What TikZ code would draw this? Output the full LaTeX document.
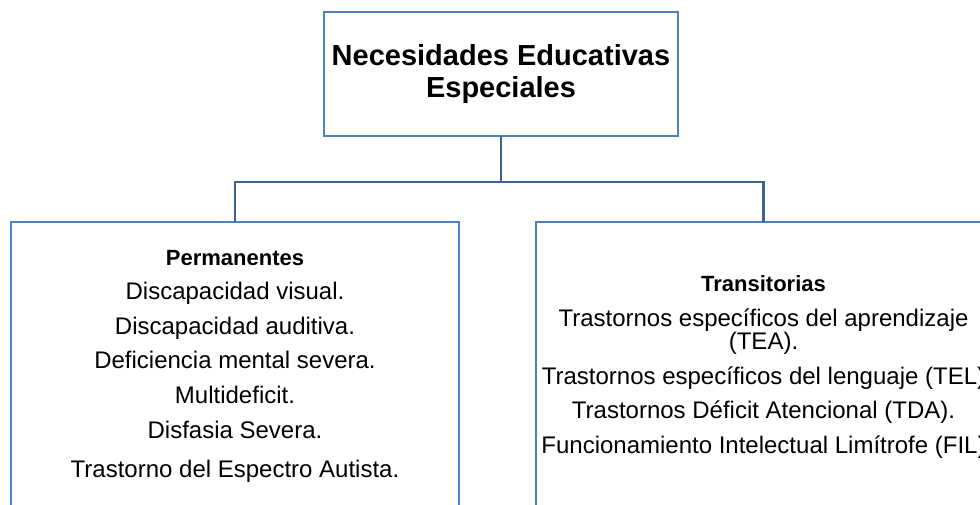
\documentclass[tikz,border=0pt]{standalone}
\usepackage{fontspec}
\setmainfont{Liberation Sans}
\usetikzlibrary{positioning}

\definecolor{bordeazul}{HTML}{4F81BD}
\definecolor{lineaazul}{HTML}{3C6496}

\tikzset{
  caja/.style={draw=bordeazul, line width=2.6pt, outer sep=0pt, inner sep=0pt, fill=white},
  enlace/.style={draw=lineaazul, line width=2.6pt},
  lista/.style={inner sep=0pt, outer sep=0pt, anchor=north, font=\fontsize{24}{34.6}\selectfont},
}

\begin{document}
\begin{tikzpicture}[x=1pt,y=-1pt]
\useasboundingbox (0,0) rectangle (980,505);
\clip (0,0) rectangle (980,505);
\node (nee) [caja, minimum width=354pt, minimum height=124pt, align=center,
  font=\fontsize{29}{31.7}\selectfont\bfseries] at (501,74) {Necesidades Educativas\\Especiales};
\node (perm) [caja, anchor=north, minimum width=448pt, minimum height=320pt] at (235,222) {};
\node (trans) [caja, anchor=north, minimum width=455pt, minimum height=320pt] at (763.5,222) {};
\node (permlista) [lista, below=18.8pt of perm.north] {
\begin{tabular}{@{}c@{}}
{\fontsize{22}{34.6}\selectfont\bfseries Permanentes} \\
 Discapacidad visual. \\
 Discapacidad auditiva. \\
 Deficiencia mental severa. \\
 Multideficit. \\
 Disfasia Severa. \\[4.4pt]
 Trastorno del Espectro Autista.
\end{tabular}
};
\node (translista) [lista, below=45.5pt of trans.north] {
\begin{tabular}{@{}c@{}}
{\fontsize{22}{34.6}\selectfont\bfseries Transitorias} \\
 Trastornos específicos del aprendizaje \\[-11.3pt]
 (TEA). \\
 Trastornos específicos del lenguaje (TEL) \\
 Trastornos Déficit Atencional (TDA). \\
 Funcionamiento Intelectual Limítrofe (FIL)
\end{tabular}
};
\coordinate (union) at (501,182);
\draw [enlace] (nee.south) -- (union);
\draw [enlace] (perm.north) |- (union) -| (trans.north);
\end{tikzpicture}
\end{document}
